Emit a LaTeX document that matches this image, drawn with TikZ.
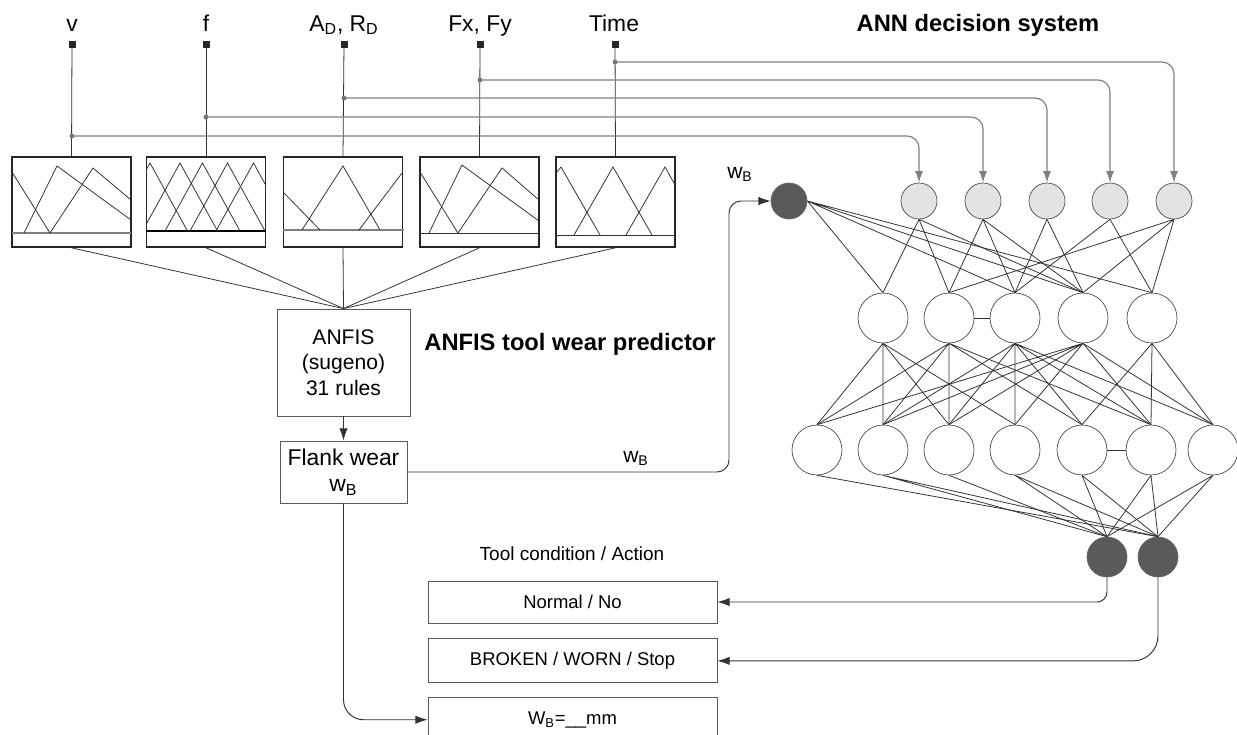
\documentclass[tikz,border=0pt]{standalone}
\usepackage{fontspec}
\setmainfont{Liberation Sans}
\usetikzlibrary{positioning,arrows.meta}

\begin{document}
\begin{tikzpicture}[x=0.02cm, y=-0.02cm,
    mfbox/.style={draw=black!85, line width=0.9pt, minimum width=2.38cm, minimum height=1.8cm, inner sep=0pt},
    blockbox/.style={draw=black!65, line width=0.5pt, align=center, inner sep=0pt, font=\fontsize{12}{14.5}\selectfont},
    condbox/.style={blockbox, minimum width=5.78cm, font=\fontsize{10.5}{12}\selectfont},
    sq/.style={fill=black!85, minimum size=0.14cm, inner sep=0pt},
    lbl/.style={anchor=base, font=\fontsize{12}{14}\selectfont},
    title/.style={anchor=base, font=\fontsize{13.5}{16}\selectfont\bfseries},
    innode/.style={circle, draw=black!70, fill=nodegray, minimum size=0.72cm, inner sep=0pt},
    hidnode/.style={circle, draw=black!70, fill=white, minimum size=1cm, inner sep=0pt},
    darknode/.style={circle, draw=black!60, fill=nodedark, minimum size=0.72cm, inner sep=0pt},
    link/.style={draw=black!80, line width=0.45pt},
    tap/.style={draw=black!50, line width=0.7pt, rounded corners=0.24cm, -{Latex[length=6.5pt,width=4.5pt]}},
    arr/.style={draw=black!80, line width=0.55pt, -{Latex[length=7pt,width=4.8pt]}}]

    % Define colors
    \definecolor{nodegray}{RGB}{227,227,227}
    \definecolor{nodedark}{RGB}{90,90,90}

    \useasboundingbox (0,0) rectangle (1237,734);

    %-------------
    % Inputs
    \node[lbl, font=\fontsize{13}{15}\selectfont] (lv) at (72,31) {v};
    \node[lbl, font=\fontsize{13}{15}\selectfont] (lf) at (206,31) {f};
    \node[lbl, font=\fontsize{13}{15}\selectfont] (la) at (344,31) {A\textsubscript{D}, R\textsubscript{D}};
    \node[lbl, font=\fontsize{13}{15}\selectfont] (lx) at (480,31) {Fx, Fy};
    \node[lbl, font=\fontsize{13}{15}\selectfont] (lt) at (614,31) {Time};

    \node[sq] (sv) at (72,44) {};
    \node[sq] (sf) at (206,44) {};
    \node[sq] (sa) at (344,44) {};
    \node[sq] (sx) at (480,44) {};
    \node[sq] (st) at (615,44) {};

    %-------------
    % Membership function boxes
    \node[mfbox] (mfv) at (71.5,202) {};
    \node[mfbox] (mff) at (206,202) {};
    \node[mfbox] (mfa) at (343,202) {};
    \node[mfbox] (mfx) at (479.5,202) {};
    \node[mfbox] (mft) at (615.5,202) {};

    \draw[link] (sv) -- (mfv.north);
    \draw[link] (sf) -- (mff.north);
    \draw[link] (sa) -- (mfa.north);
    \draw[link] (sx) -- (mfx.north);
    \draw[link] (st) -- (mft.north);

    % v
    \draw[black!50, line width=0.7pt] (12,233) -- (131,233);
    \draw[link] (12,172) -- (50,233);
    \draw[link] (24,233) -- (57,166) -- (131,220);
    \draw[link] (50,233) -- (93,168) -- (131,200);
    % f
    \draw[black, line width=1.1pt] (146,231) -- (266,231);
    \begin{scope}
        \clip (146,157) rectangle (266,231);
        \draw[link] (112.5,231) -- (150,163) -- (187.5,231);
        \draw[link] (142.5,231) -- (180,163) -- (217.5,231);
        \draw[link] (165,231) -- (202.5,163) -- (240,231);
        \draw[link] (190,231) -- (227.5,163) -- (265,231);
        \draw[link] (216,231) -- (253.5,163) -- (291,231);
    \end{scope}
    % A, R
    \draw[black!50, line width=0.7pt] (283,230) -- (404,230);
    \draw[link] (284,193) -- (320,230);
    \draw[link] (302,230) -- (343,166) -- (380,230);
    \draw[link] (359,230) -- (402,173);
    % Fx, Fy
    \draw[link] (420,233) -- (539,233);
    \draw[link] (420,172) -- (458,233);
    \draw[link] (429,233) -- (462,165) -- (539,221);
    \draw[link] (458,233) -- (502,168) -- (539,200);
    % Time
    \draw[link] (557,235) -- (674,235);
    \draw[link] (557,172) -- (561,167) -- (600,235);
    \draw[link] (574,235) -- (613,167) -- (652,235);
    \draw[link] (626,235) -- (665,167) -- (674,183);

    %-------------
    % ANFIS
    \node[blockbox, minimum width=2.66cm, minimum height=2.14cm] (anfis) at (343.5,362.5) {ANFIS\\(sugeno)\\31 rules};
    \node[blockbox, minimum width=2.54cm, minimum height=1.24cm, font=\fontsize{13}{15}\selectfont] (flank) at (343.5,472) {Flank wear\\w\textsubscript{B}};
    \node[title] (anfistitle) at (570,350) {ANFIS tool wear predictor};

    \draw[link] (mfv.south) -- (anfis.north);
    \draw[link] (mff.south) -- (anfis.north);
    \draw[link] (mfa.south) -- (anfis.north);
    \draw[link] (mfx.south) -- (anfis.north);
    \draw[link] (mft.south) -- (anfis.north);
    \draw[arr] (anfis.south) -- (flank.north);

    %-------------
    % ANN
    \node[title] (anntitle) at (978,31) {ANN decision system};

    \node[darknode] (b) at (789,201) {};
    \node[innode] (i1) at (919,201) {};
    \node[innode] (i2) at (983,201) {};
    \node[innode] (i3) at (1047,201) {};
    \node[innode] (i4) at (1110,201) {};
    \node[innode] (i5) at (1174,201) {};

    \node[hidnode] (h1) at (883,318) {};
    \node[hidnode] (h2) at (949,318) {};
    \node[hidnode] (h3) at (1015,318) {};
    \node[hidnode] (h4) at (1083,318) {};
    \node[hidnode] (h5) at (1152,318) {};

    \node[hidnode] (g1) at (817,450) {};
    \node[hidnode] (g2) at (883,450) {};
    \node[hidnode] (g3) at (949,450) {};
    \node[hidnode] (g4) at (1015,450) {};
    \node[hidnode] (g5) at (1082,450) {};
    \node[hidnode] (g6) at (1151,450) {};
    \node[hidnode] (g7) at (1213,450) {};

    \node[darknode, minimum size=0.8cm] (o1) at (1107,557) {};
    \node[darknode, minimum size=0.8cm] (o2) at (1158,557) {};

    % input taps
    \coordinate (tv) at (72,136);
    \coordinate (tf) at (206,117);
    \coordinate (ta) at (344,98);
    \coordinate (tx) at (480,80);
    \coordinate (tt) at (615,62);
    \fill[black!55] (tv) circle (1.4pt) (tf) circle (1.4pt) (ta) circle (1.4pt) (tx) circle (1.4pt) (tt) circle (1.4pt);
    \draw[tap] (tv) -| (i1.north);
    \draw[tap] (tf) -| (i2.north);
    \draw[tap] (ta) -| (i3.north);
    \draw[tap] (tx) -| (i4.north);
    \draw[tap] (tt) -| (i5.north);

    % first layer
    \draw[link] (b.east) -- (h1.north) (b.east) -- (h3.north) (b.east) -- (h4.north) (b.east) -- (h5.north);
    \draw[link] (i1.south) -- (h1.north) (i1.south) -- (h2.north) (i1.south) -- (h4.north);
    \draw[link] (i2.south) -- (h2.north) (i2.south) -- (h3.north) (i2.south) -- (h4.north);
    \draw[link] (i3.south) -- (h3.north) (i3.south) -- (h4.north);
    \draw[link] (i4.south) -- (h3.north) (i4.south) -- (h5.north);
    \draw[link] (i5.south) -- (h2.north) (i5.south) -- (h4.north) (i5.south) -- (h5.north);
    \draw[link] (h2.east) -- (h3.west);

    % second layer
    \draw[link] (h1.south) -- (g1.north) (h1.south) -- (g2.north) (h1.south) -- (g3.north) (h1.south) -- (g4.north);
    \draw[link] (h2.south) -- (g1.north) (h2.south) -- (g2.north) (h2.south) -- (g3.north) (h2.south) -- (g5.north) (h2.south) -- (g6.north);
    \draw[link] (h3.south) -- (g2.north) (h3.south) -- (g3.north) (h3.south) -- (g4.north) (h3.south) -- (g5.north) (h3.south) -- (g6.north) (h3.south) -- (g7.north);
    \draw[link] (h4.south) -- (g1.north) (h4.south) -- (g2.north) (h4.south) -- (g3.north) (h4.south) -- (g4.north) (h4.south) -- (g6.north) (h4.south) -- (g7.north);
    \draw[link] (h5.south) -- (g5.north) (h5.south) -- (g6.north) (h5.south) -- (g7.north);
    \draw[link] (g5.east) -- (g6.west);

    % outputs
    \draw[link] (g1.south) -- (o2.north);
    \draw[link] (g2.south) -- (o1.north) (g2.south) -- (o2.north);
    \draw[link] (g3.south) -- (o1.north);
    \draw[link] (g4.south) -- (o1.north) (g4.south) -- (o2.north);
    \draw[link] (g5.south) -- (o1.north) (g5.south) -- (o2.north);
    \draw[link] (g6.south) -- (o1.north) (g6.south) -- (o2.north);
    \draw[link] (g7.south) -- (o1.north) (g7.south) -- (o2.north);

    %-------------
    % wear to ANN
    \coordinate (bend) at (729,201);
    \draw[arr, rounded corners=0.24cm] (flank.east) -| (bend) -- (b.west);
    \node[lbl] (wbline) at (636,462) {w\textsubscript{B}};
    \node[lbl] (wbin) at (740,178) {w\textsubscript{B}};

    %-------------
    % Tool condition boxes
    \node[condbox, minimum height=0.84cm] (normal) at (572.5,602) {Normal / No};
    \node[condbox, minimum height=0.88cm, below=0.3cm of normal] (broken) {BROKEN / WORN / Stop};
    \node[condbox, minimum height=0.88cm, below=0.28cm of broken] (wbox) {W\textsubscript{B}=\_\_mm};
    \node[lbl, font=\fontsize{10.8}{13}\selectfont] (condtitle) at (572,560) {Tool condition / Action};

    \draw[arr, rounded corners=0.2cm] (o1.south) |- (normal.east);
    \draw[arr, rounded corners=0.5cm] (o2.south) |- (broken.east);
    \draw[arr, rounded corners=0.4cm] (flank.south) |- (wbox.west);

\end{tikzpicture}
\end{document}
